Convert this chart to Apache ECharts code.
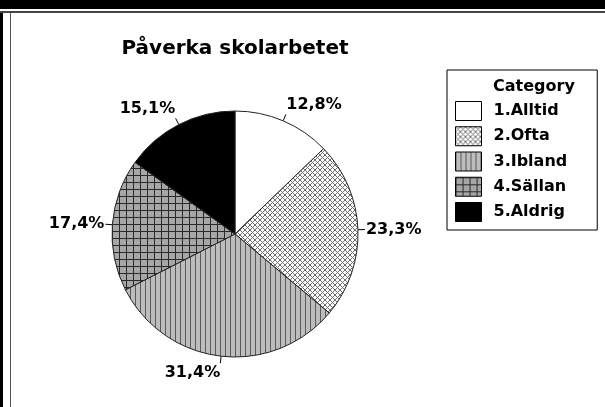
<!DOCTYPE html>
<html>
<head>
<meta charset="utf-8">
<script src="https://cdn.jsdelivr.net/npm/echarts@6/dist/echarts.min.js"></script>
<style>
  html, body { margin: 0; padding: 0; background: #fff; }
  #chart { width: 605px; height: 407px; }
</style>
</head>
<body>
<div id="chart"></div>
<script>
const CATEGORIES = ["1.Alltid", "2.Ofta", "3.Ibland", "4.Sällan", "5.Aldrig"];
const VALUES = [12.8, 23.3, 31.4, 17.4, 15.1];

function makePattern(size, draw) {
  const canvas = document.createElement("canvas");
  canvas.width = size;
  canvas.height = size;
  const ctx = canvas.getContext("2d");
  draw(ctx, size);
  return { image: canvas, repeat: "repeat" };
}

const crossHatch = makePattern(5, (ctx, s) => {
  ctx.fillStyle = "#fff";
  ctx.fillRect(0, 0, s, s);
  ctx.strokeStyle = "#6e6e6e";
  ctx.lineWidth = 1;
  ctx.beginPath();
  ctx.moveTo(0, 0);
  ctx.lineTo(s, s);
  ctx.moveTo(s, 0);
  ctx.lineTo(0, s);
  ctx.stroke();
});

const verticalLines = makePattern(5, (ctx, s) => {
  ctx.fillStyle = "#bdbdbd";
  ctx.fillRect(0, 0, s, s);
  ctx.fillStyle = "#5a5a5a";
  ctx.fillRect(0, 0, 1, s);
});

const gridLines = makePattern(7, (ctx, s) => {
  ctx.fillStyle = "#a6a6a6";
  ctx.fillRect(0, 0, s, s);
  ctx.fillStyle = "#2a2a2a";
  ctx.fillRect(0, 0, 1, s);
  ctx.fillRect(0, 0, s, 1);
});

const FILLS = ["#ffffff", crossHatch, verticalLines, gridLines, "#000000"];

// put each label at the end of its short leader line, on the side facing away from the pie
function placeLabel(params) {
  const pts = params.labelLinePoints;
  if (!pts) {
    return {};
  }
  const p0 = pts[0];
  const p1 = pts[1];
  const dx = p1[0] - p0[0];
  const dy = p1[1] - p0[1];
  const len = Math.hypot(dx, dy) || 1;
  const ux = dx / len;
  const uy = dy / len;
  const align = ux > 0.05 ? "left" : ux < -0.05 ? "right" : "center";
  const verticalAlign = uy < -0.3 ? "bottom" : uy > 0.3 ? "top" : "middle";
  return {
    x: p1[0] + ux,
    y: p1[1] + uy * 2,
    align,
    verticalAlign,
    labelLinePoints: [p0, p1, p1],
  };
}

const chart = echarts.init(document.getElementById("chart"), null, { renderer: "canvas" });

const font = "DejaVu Sans, Verdana, sans-serif";

chart.setOption({
  animation: false,
  title: [
    {
      text: "Påverka skolarbetet",
      left: 230,
      textAlign: "center",
      top: 34,
      textStyle: { fontFamily: font, fontWeight: "bold", fontSize: 20, color: "#000" },
    },
    {
      text: "Category",
      left: 488,
      top: 74,
      textStyle: { fontFamily: font, fontWeight: "bold", fontSize: 16, color: "#000" },
    },
  ],
  legend: {
    orient: "vertical",
    left: 447,
    top: 70,
    padding: [31, 30, 8, 8],
    itemWidth: 26,
    itemHeight: 19,
    itemGap: 5.25,
    borderColor: "#000",
    borderWidth: 1,
    icon: "rect",
    itemStyle: { borderColor: "#000", borderWidth: 1 },
    textStyle: {
      fontFamily: font,
      fontWeight: "bold",
      fontSize: 16,
      lineHeight: 18,
      color: "#000",
      padding: [0, 0, 0, 7],
    },
    data: CATEGORIES,
  },
  graphic: [
    { type: "rect", shape: { x: 0, y: 0, width: 605, height: 9 }, style: { fill: "#000" } },
    { type: "rect", shape: { x: 0, y: 11, width: 605, height: 2 }, style: { fill: "#444" } },
    { type: "rect", shape: { x: 0, y: 13, width: 3, height: 394 }, style: { fill: "#000" } },
    { type: "rect", shape: { x: 10, y: 13, width: 1, height: 394 }, style: { fill: "#555" } },
  ],
  series: [
    {
      type: "pie",
      center: [235, 234],
      radius: 123,
      startAngle: 90,
      clockwise: true,
      label: {
        show: true,
        fontFamily: font,
        fontWeight: "bold",
        fontSize: 16,
        color: "#000",
        formatter: (p) => p.value.toFixed(1).replace(".", ",") + "%",
      },
      labelLine: {
        show: true,
        length: 7,
        length2: 0,
        lineStyle: { color: "#000", width: 1 },
      },
      labelLayout: placeLabel,
      itemStyle: { borderColor: "#222", borderWidth: 1 },
      emphasis: { disabled: true },
      data: CATEGORIES.map((name, i) => ({
        name,
        value: VALUES[i],
        itemStyle: { color: FILLS[i] },
      })),
    },
  ],
});
</script>
</body>
</html>
